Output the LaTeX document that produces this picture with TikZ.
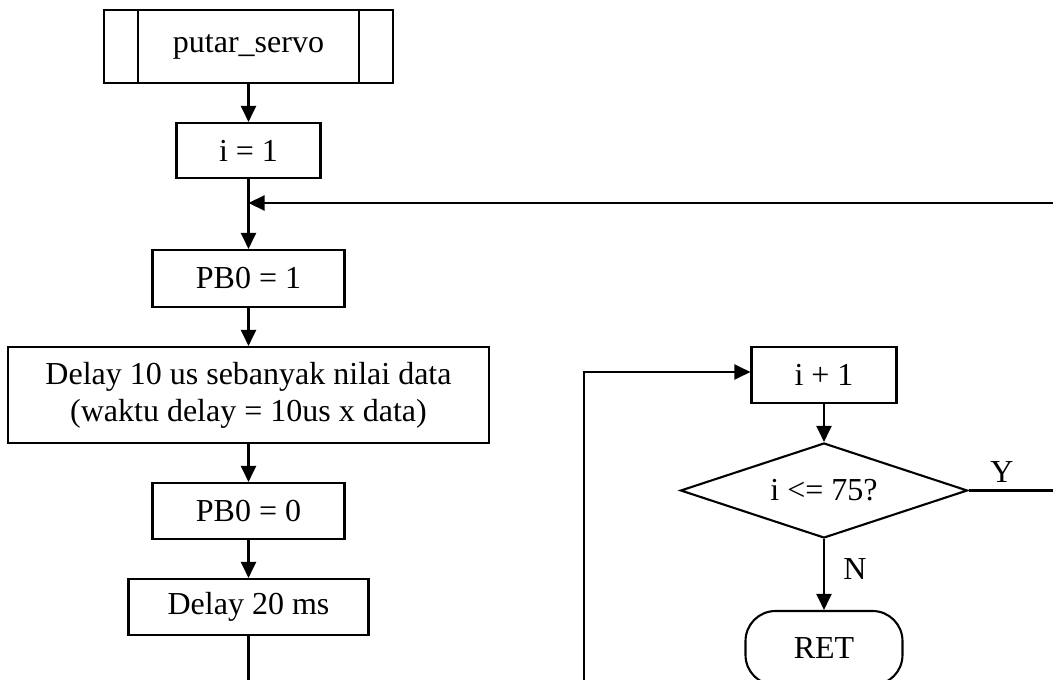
\documentclass[tikz,border=0pt]{standalone}
\usepackage{fontspec}
\setmainfont{Liberation Serif}
\usetikzlibrary{arrows.meta,shapes.geometric}

\tikzset{
  base/.style={draw, line width=2.1pt, inner sep=0pt, align=center,
    font=\fontsize{32}{36.8}\selectfont},
  proc/.style={base, rectangle},
  decision/.style={base, diamond, aspect=3},
  terminal/.style={base, rectangle, rounded corners=30pt},
  flow/.style={line width=2.1pt, -{Triangle[length=16pt,width=15pt]}},
  plain/.style={line width=2.1pt},
  lbl/.style={inner sep=0pt, font=\fontsize{32}{36.8}\selectfont}
}

\begin{document}
\begin{tikzpicture}[x=1pt,y=-1pt]
  \useasboundingbox (0,0) rectangle (1053,680);
  \clip (0,0) rectangle (1053,680);
  \fill[white] (0,0) rectangle (1053,680);

  % left column, all centred on x = 248.5
  \node[proc, minimum width=289pt, minimum height=73pt] (sub) at (248.5,46.5) {putar\_servo};
  \draw[plain] ([xshift=35pt]sub.north west) -- ([xshift=35pt]sub.south west);
  \draw[plain] ([xshift=-35pt]sub.north east) -- ([xshift=-35pt]sub.south east);

  \node[proc, minimum width=144pt, minimum height=55pt] (init) at (248.5,150.5) {i = 1};
  \coordinate (join) at (248.5,203);
  \node[proc, minimum width=192pt, minimum height=57pt] (pbon) at (248.5,278.5) {PB0 = 1};
  \node[proc, minimum width=481pt, minimum height=96pt] (dly) at (248.5,395)
    {Delay 10 us sebanyak nilai data\\(waktu delay = 10us x data)};
  \node[proc, minimum width=192pt, minimum height=56pt] (pboff) at (248.5,511) {PB0 = 0};
  \node[proc, minimum width=240pt, minimum height=56pt] (d20) at (248.5,607) {Delay 20 ms};
  \coordinate (leftout) at (248.5,690);

  % right column, all centred on x = 824
  \node[proc, minimum width=145pt, minimum height=56pt] (inc) at (824,375) {i + 1};
  \node[decision, minimum width=287pt, minimum height=95pt] (chk) at (824,490.5) {i <= 75?};
  \node[terminal, minimum width=157pt, minimum height=74pt] (ret) at (824,648) {RET};

  \coordinate (loopin) at (584,690);
  \coordinate (loopcorner) at (584,372);
  \coordinate (yout) at (1063,490.5);
  \coordinate (topin) at (1063,203);

  % connectors
  \draw[flow] (sub) -- (init);
  \draw[plain] (init) -- (join);
  \draw[flow] (join) -- (pbon);
  \draw[flow] (topin) -- (join);
  \draw[flow] (pbon) -- (dly);
  \draw[flow] (dly) -- (pboff);
  \draw[flow] (pboff) -- (d20);
  \draw[plain] (d20) -- (leftout);

  \draw[flow] (loopin) -- (loopcorner) -- (inc.west |- loopcorner);
  \draw[flow] (inc) -- (chk);
  \draw[flow] (chk.south) -- (ret.north);
  \draw[plain] (chk.east) -- (yout);

  \node[lbl] (ylbl) at (1002,472) {Y};
  \node[lbl] (nlbl) at (855,569) {N};
\end{tikzpicture}
\end{document}
